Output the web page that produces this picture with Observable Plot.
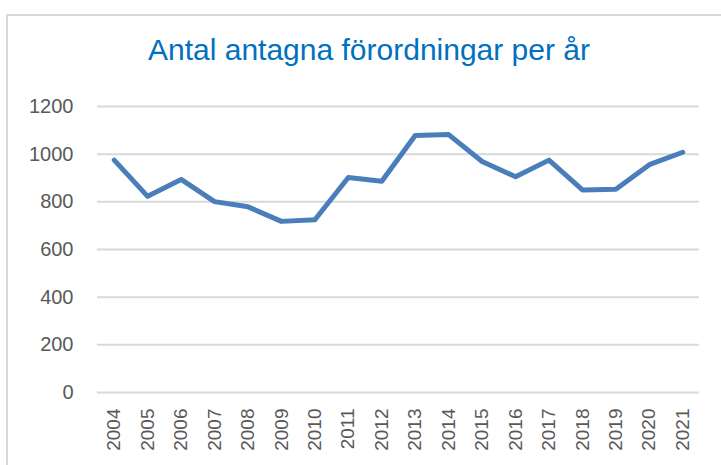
<!DOCTYPE html>
<html>
<head>
<meta charset="utf-8">
<script src="https://cdn.jsdelivr.net/npm/d3@7"></script>
<script src="https://cdn.jsdelivr.net/npm/@observablehq/plot@0.6"></script>
<style>
  html, body { margin: 0; padding: 0; background: #fff; }
  #wrap { position: relative; width: 721px; height: 465px; overflow: hidden; background: #fff; }
  #frame { position: absolute; left: 6px; top: 14px; width: 800px; height: 600px;
           border-left: 2px solid #d9d9d9; border-top: 2px solid #d9d9d9; }
  #title { position: absolute; left: 0; top: 0; width: 721px; height: 80px; }
  #title span { position: absolute; left: 148px; top: 36px; white-space: nowrap;
                font-family: "Liberation Sans Narrow", "Liberation Sans", Arial, sans-serif;
                font-size: 29px; line-height: 1; color: #0070C0; transform-origin: 0 0; }
  #chart { position: absolute; left: 0; top: 80px; }
  #chart g[aria-label="y-axis tick label"] { font-size: 20px; }
  #chart g[aria-label="x-axis tick label"] { font-size: 19px; }
</style>
</head>
<body>
<div id="wrap">
  <div id="frame"></div>
  <div id="title"><span>Antal antagna förordningar per år</span></div>
  <div id="chart"></div>
</div>
<script>
const titleText = "Antal antagna förordningar per år";
const years = ["2004","2005","2006","2007","2008","2009","2010","2011","2012","2013","2014","2015","2016","2017","2018","2019","2020","2021"];
const counts = [975, 823, 894, 801, 779, 718, 725, 902, 886, 1078, 1082, 969, 905, 975, 850, 853, 956, 1008];
const yTicks = [0, 200, 400, 600, 800, 1000, 1200];

const data = years.map((y, i) => ({year: y, value: counts[i]}));

// fit title width
const span = document.querySelector("#title span");
span.textContent = titleText;
const w = span.getBoundingClientRect().width;
span.style.transform = `scaleX(${442 / w})`;

const chart = Plot.plot({
  width: 721,
  height: 385,
  marginTop: 26,
  marginBottom: 73,
  marginLeft: 97,
  marginRight: 22,
  style: {fontFamily: "Liberation Sans, Arial, sans-serif", fontSize: "20px", background: "transparent", overflow: "visible"},
  x: {type: "point", domain: years, padding: 0.5, round: false, label: null},
  y: {domain: [0, 1200], label: null},
  marks: [
    Plot.gridY(yTicks, {stroke: "#d9d9d9", strokeOpacity: 1, strokeWidth: 2}),
    Plot.axisY(yTicks, {tickSize: 0, tickPadding: 24, fontSize: 20, fill: "#595959", label: null, tickFormat: d => String(d)}),
    Plot.axisX(years, {tickSize: 0, tickPadding: 16, tickRotate: -90, fontSize: 19, fill: "#595959", label: null}),
    Plot.line(data, {x: "year", y: "value", stroke: "#4A7EBB", strokeWidth: 5, strokeLinejoin: "round", strokeLinecap: "round"})
  ]
});
document.getElementById("chart").appendChild(chart);
</script>
</body>
</html>
